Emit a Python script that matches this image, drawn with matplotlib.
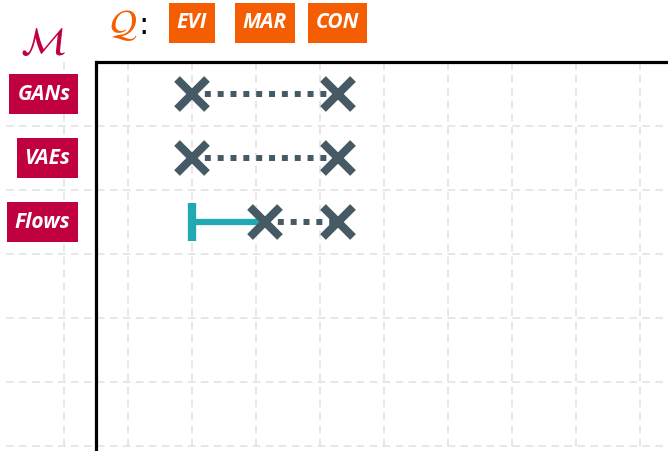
import numpy as np
import matplotlib.pyplot as plt
from matplotlib.transforms import blended_transform_factory

# model families (rows) and query types (columns)
models = ["GANs", "VAEs", "Flows"]
queries = ["EVI", "MAR", "CON"]
# queries marked with an x for each family
x_marks = [["EVI", "CON"], ["EVI", "CON"], ["MAR", "CON"]]
# queries handled exactly (bar + solid run up to the first x)
exact = [[], [], ["EVI"]]

CRIMSON = "#C1003F"
ORANGE = "#F45D01"
SLATE = "#455A64"
TEAL = "#22A8B2"
GRID = "#e0e0e0"

W, H = 668, 451
fig = plt.figure(figsize=(W / 100, H / 100), dpi=100)

# dashed background grid spanning the canvas (pixel units)
bg = fig.add_axes([0, 0, 1, 1])
bg.set_xlim(0, W)
bg.set_ylim(H, 0)
bg.axis("off")
dash = (0, (5, 3.5))
bg.hlines(np.arange(126, H, 64), 6, W, color=GRID, lw=1.1, linestyles=dash)
bg.vlines(np.arange(63.5, W, 64), 62, H, color=GRID, lw=1.1, linestyles=dash)

# main panel: x = query index, y = model index
left, top = 96.5, 62
ax = fig.add_axes([left / W, 0, 1 - left / W, 1 - top / H])
ax.patch.set_alpha(0)
x0, xs = 192, 72.75   # px of first query, px per query step
y0, ys = 94, 64
ax.set_xlim((left - x0) / xs, (W - x0) / xs)
ax.set_ylim((H - y0) / ys, (top - y0) / ys)
ax.set_xticks([])
ax.set_yticks([])
for s in ["right", "bottom"]:
    ax.spines[s].set_visible(False)
for s in ["left", "top"]:
    ax.spines[s].set_linewidth(2.3)
    ax.spines[s].set_color("black")

for i, m in enumerate(models):
    xi = [queries.index(q) for q in x_marks[i]]
    ax.plot(xi, [i] * len(xi), color=SLATE, lw=4.3,
            linestyle=(0, (1, 1.15)), zorder=3, clip_on=False)
    for q in exact[i]:
        qi = queries.index(q)
        ax.plot([qi, xi[0]], [i, i], color=TEAL, lw=4.5,
                solid_capstyle="butt", zorder=3)
        ax.plot([qi], [i], marker="|", ms=28, mew=6, color=TEAL,
                linestyle="none", zorder=4)
    ax.plot(xi, [i] * len(xi), marker="x", ms=21, mew=5.8, color=SLATE,
            linestyle="none", zorder=5, clip_on=False)

label_kw = dict(color="white", fontsize=15, fontweight="bold",
                fontstyle="italic", family="Open Sans")

# row labels
row_tr = blended_transform_factory(fig.transFigure, ax.transData)
for i, m in enumerate(models):
    fig.text(70.5 / W, i, m, transform=row_tr, ha="right", va="center",
             bbox=dict(boxstyle="square,pad=0.38", fc=CRIMSON, ec="none",
                       mutation_aspect=1.25),
             **label_kw)

# column labels
col_tr = blended_transform_factory(ax.transData, fig.transFigure)
for j, q in enumerate(queries):
    fig.text(j, 1 - 23 / H, q, transform=col_tr, ha="center", va="center",
             bbox=dict(boxstyle="square,pad=0.38", fc=ORANGE, ec="none",
                       mutation_aspect=1.25),
             **label_kw)

fig.text(43 / W, 1 - 43 / H, r"$\mathcal{M}$", color=CRIMSON, fontsize=28,
         ha="center", va="center", math_fontfamily="stix")
fig.text(123 / W, 1 - 26 / H, r"$\mathcal{Q}$", color=ORANGE, fontsize=27,
         ha="center", va="center", math_fontfamily="stix")
fig.text(143 / W, 1 - 25 / H, ":", color="black", fontsize=22,
         ha="center", va="center")

fig.savefig("out.png", dpi=100)
